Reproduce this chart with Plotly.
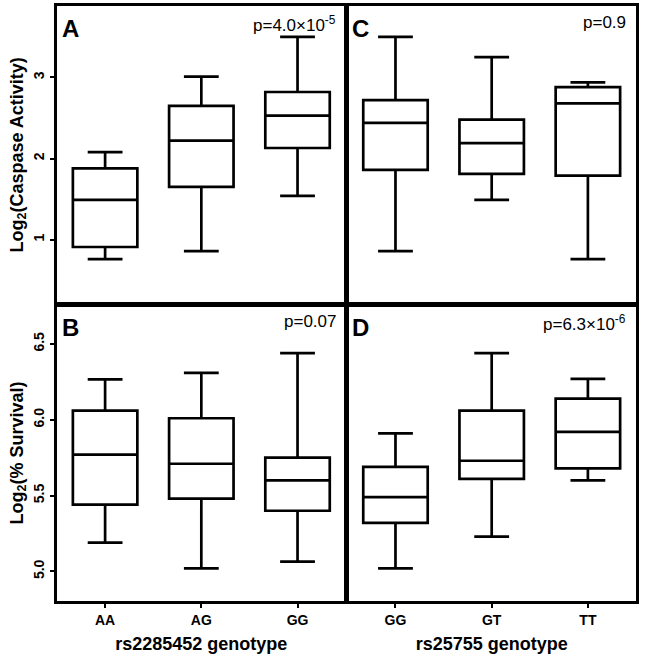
import plotly.graph_objects as go
from plotly.subplots import make_subplots

# ---- data ----
cats_left = ["AA", "AG", "GG"]
cats_right = ["GG", "GT", "TT"]

# Panel A: Log2(Caspase Activity) by rs2285452
A_low = [0.76, 0.86, 1.54]
A_q1 = [0.91, 1.65, 2.13]
A_med = [1.49, 2.22, 2.53]
A_q3 = [1.88, 2.65, 2.82]
A_high = [2.08, 3.01, 3.50]

# Panel C: Log2(Caspase Activity) by rs25755
C_low = [0.86, 1.49, 0.76]
C_q1 = [1.86, 1.81, 1.79]
C_med = [2.44, 2.19, 2.68]
C_q3 = [2.72, 2.48, 2.88]
C_high = [3.50, 3.25, 2.94]

# Panel B: Log2(% Survival) by rs2285452
B_low = [5.19, 5.02, 5.065]
B_q1 = [5.44, 5.48, 5.40]
B_med = [5.77, 5.71, 5.60]
B_q3 = [6.06, 6.01, 5.75]
B_high = [6.266, 6.31, 6.44]

# Panel D: Log2(% Survival) by rs25755
D_low = [5.02, 5.23, 5.60]
D_q1 = [5.32, 5.61, 5.68]
D_med = [5.49, 5.73, 5.92]
D_q3 = [5.69, 6.06, 6.14]
D_high = [5.91, 6.44, 6.27]

top_ticks = [1, 2, 3]
top_ticklabels = ["1", "2", "3"]
bot_ticks = [5.0, 5.5, 6.0, 6.5]
bot_ticklabels = ["5.0", "5.5", "6.0", "6.5"]

FONT = "Liberation Sans, Arial, sans-serif"

fig = make_subplots(rows=2, cols=2, horizontal_spacing=0, vertical_spacing=0)


def add_box(cats, low, q1, med, q3, high, row, col):
    fig.add_trace(
        go.Box(
            x=cats, lowerfence=low, q1=q1, median=med, q3=q3, upperfence=high,
            fillcolor="white", line=dict(color="black", width=2.7),
            width=0.67, whiskerwidth=0.54, boxpoints=False, showlegend=False,
            hoverinfo="skip",
        ),
        row=row, col=col,
    )


add_box(cats_left, A_low, A_q1, A_med, A_q3, A_high, 1, 1)
add_box(cats_right, C_low, C_q1, C_med, C_q3, C_high, 1, 2)
add_box(cats_left, B_low, B_q1, B_med, B_q3, B_high, 2, 1)
add_box(cats_right, D_low, D_q1, D_med, D_q3, D_high, 2, 2)

axis_common = dict(showline=True, linecolor="black", linewidth=3, mirror=True,
                   showgrid=False, zeroline=False, automargin=False)

xdom_l = [0, 0.4985]
xdom_r = [0.5015, 1]
ydom_t = [0.4995, 1]
ydom_b = [0, 0.4975]

# x axes
fig.update_xaxes(**axis_common)
fig.update_layout(
    xaxis=dict(domain=xdom_l, range=[-0.5, 2.5], showticklabels=False, ticks=""),
    xaxis2=dict(domain=xdom_r, range=[-0.5, 2.5], showticklabels=False, ticks=""),
    xaxis3=dict(domain=xdom_l, range=[-0.5, 2.5], ticks="outside", ticklen=4,
                tickwidth=2, tickcolor="black",
                tickfont=dict(family=FONT, size=14, color="black", weight="bold"),
                title=dict(text="rs2285452 genotype", standoff=11,
                           font=dict(family=FONT, size=18, color="black", weight="bold"))),
    xaxis4=dict(domain=xdom_r, range=[-0.5, 2.5], ticks="outside", ticklen=4,
                tickwidth=2, tickcolor="black",
                tickfont=dict(family=FONT, size=14, color="black", weight="bold"),
                title=dict(text="rs25755 genotype", standoff=11,
                           font=dict(family=FONT, size=18, color="black", weight="bold"))),
)

fig.update_yaxes(**axis_common)
fig.update_layout(
    yaxis=dict(domain=ydom_t, range=[0.21, 3.88], tickvals=top_ticks, ticktext=top_ticklabels,
               ticks="outside", ticklen=4, tickwidth=2, tickcolor="black", tickangle=-90,
               tickfont=dict(family=FONT, size=14, color="black", weight="bold"),
               title=dict(text="Log<sub>2</sub>(Caspase Activity)", standoff=4,
                          font=dict(family=FONT, size=18, color="black", weight="bold"))),
    yaxis2=dict(domain=ydom_t, range=[0.21, 3.88], showticklabels=False, ticks=""),
    yaxis3=dict(domain=ydom_b, range=[4.805, 6.757], tickvals=bot_ticks, ticktext=bot_ticklabels,
                ticks="outside", ticklen=4, tickwidth=2, tickcolor="black", tickangle=-90,
                tickfont=dict(family=FONT, size=14, color="black", weight="bold"),
                title=dict(text="Log<sub>2</sub>(% Survival)", standoff=4,
                           font=dict(family=FONT, size=18, color="black", weight="bold"))),
    yaxis4=dict(domain=ydom_b, range=[4.805, 6.757], showticklabels=False, ticks=""),
)

panels = [
    ("x", "y", "A", "p=4.0\u00d710<sup>-5</sup>"),
    ("x2", "y2", "C", "p=0.9"),
    ("x3", "y3", "B", "p=0.07"),
    ("x4", "y4", "D", "p=6.3\u00d710<sup>-6</sup>"),
]
for xr, yr, letter, ptxt in panels:
    fig.add_annotation(text=letter, xref=f"{xr} domain", yref=f"{yr} domain",
                       x=0.01, y=0.975, xanchor="left", yanchor="top", showarrow=False,
                       font=dict(family=FONT, size=24, color="black", weight="bold"))
    fig.add_annotation(text=ptxt, xref=f"{xr} domain", yref=f"{yr} domain",
                       x=0.972, y=0.982, xanchor="right", yanchor="top", showarrow=False,
                       font=dict(family=FONT, size=17, color="black"))

fig.update_layout(
    width=645, height=659,
    margin=dict(l=57, r=9, t=6, b=58, autoexpand=False),
    paper_bgcolor="white", plot_bgcolor="white",
    font=dict(family=FONT, color="black"),
    showlegend=False,
)

fig.write_html("out.html", config={"displayModeBar": False},
               post_script="document.body.style.margin='0';document.body.style.padding='0';")
